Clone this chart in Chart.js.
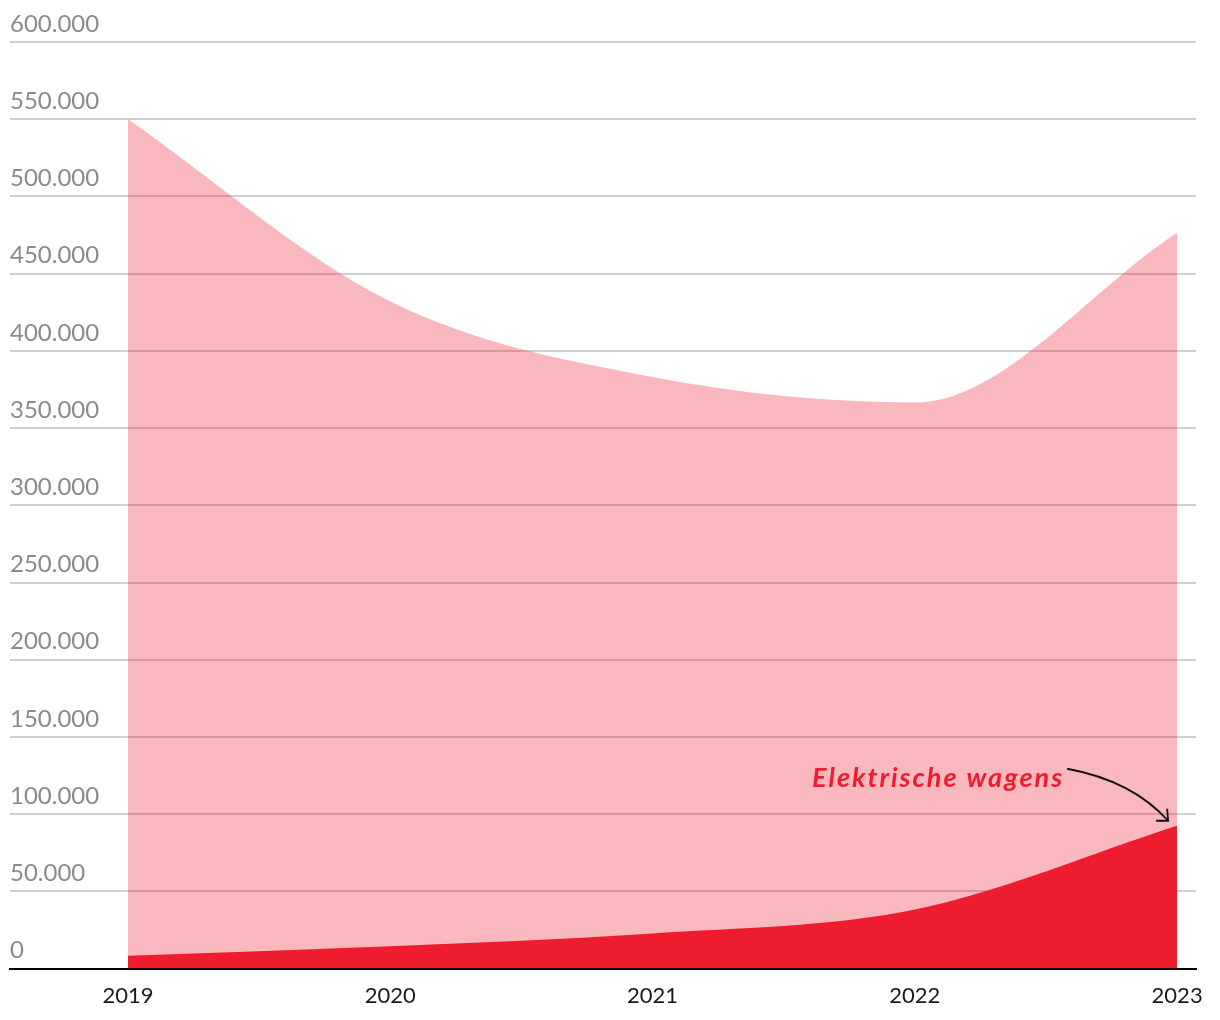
<!DOCTYPE html>
<html>
<head>
<meta charset="utf-8">
<script src="https://cdn.jsdelivr.net/npm/chart.js@4.4.1/dist/chart.umd.min.js"></script>
<style>
  html, body { margin: 0; padding: 0; background: #ffffff; }
  #wrap { width: 1220px; height: 1020px; }
</style>
</head>
<body>
<div id="wrap"><canvas id="c" width="1220" height="1020"></canvas></div>
<script>
// ---- data ----
const years = [2019, 2020, 2021, 2022, 2023];
const totalCars = [550000, 432000, 383000, 366500, 476500];
const electricCars = [8400, 14500, 22700, 38200, 92500];
const yTicks = [0, 50000, 100000, 150000, 200000, 250000, 300000, 350000, 400000, 450000, 500000, 550000, 600000];
const annotationText = 'Elektrische wagens';

const fmt = v => v === 0 ? '0' : v.toLocaleString('nl-NL').replace(/,/g, '.');

const annotationPlugin = {
  id: 'annot',
  afterDatasetsDraw(chart) {
    const ctx = chart.ctx;
    const xs = chart.scales.x, ys = chart.scales.y;
    const last = years.length - 1;
    const px = xs.getPixelForValue(years[last]);
    const py = ys.getPixelForValue(electricCars[last]);
    ctx.save();
    ctx.font = 'italic bold 27px Lato';
    try { ctx.letterSpacing = '2px'; } catch (e) {}
    ctx.fillStyle = '#ed1c2e';
    ctx.textAlign = 'right';
    ctx.textBaseline = 'alphabetic';
    ctx.fillText(annotationText, px - 113, py - 39);
    try { ctx.letterSpacing = '0px'; } catch (e) {}
    // arrow
    const sx = px - 110, sy = py - 57;
    const ex = px - 9, ey = py - 5;
    ctx.strokeStyle = '#111';
    ctx.lineWidth = 1.8;
    ctx.beginPath();
    ctx.moveTo(sx, sy);
    ctx.quadraticCurveTo(px - 45, py - 45, ex, ey);
    ctx.stroke();
    ctx.beginPath();
    ctx.moveTo(ex - 12, ey);
    ctx.lineTo(ex, ey);
    ctx.lineTo(ex - 1, ey - 12);
    ctx.stroke();
    ctx.restore();
  }
};

new Chart(document.getElementById('c'), {
  type: 'line',
  data: {
    datasets: [
      {
        label: 'Elektrische wagens',
        data: years.map((y, i) => ({ x: y, y: electricCars[i] })),
        backgroundColor: '#ed1c2e',
        borderWidth: 0,
        pointRadius: 0,
        fill: 'origin',
        cubicInterpolationMode: 'monotone'
      },
      {
        label: 'Totaal',
        data: years.map((y, i) => ({ x: y, y: totalCars[i] })),
        backgroundColor: 'rgba(236,31,52,0.32)',
        borderWidth: 0,
        pointRadius: 0,
        fill: 'origin',
        cubicInterpolationMode: 'monotone'
      }
    ]
  },
  options: {
    responsive: false,
    animation: false,
    layout: { padding: { left: 10, right: 24, top: 42, bottom: -3 } },
    plugins: { legend: { display: false }, tooltip: { enabled: false } },
    scales: {
      x: {
        type: 'linear',
        min: 2018.55,
        max: 2023.072,
        afterBuildTicks: s => { s.ticks = years.map(v => ({ value: v })); },
        grid: { display: false, drawTicks: false },
        border: { display: true, color: '#000', width: 2 },
        ticks: {
          padding: 14,
          maxRotation: 0,
          autoSkip: false,
          color: '#1a1a1a',
          font: { family: 'Lato', size: 22 },
          callback: v => String(v)
        }
      },
      y: {
        min: 0,
        max: 600000,
        afterBuildTicks: s => { s.ticks = yTicks.map(v => ({ value: v })); },
        grid: { color: '#d0d0d0', lineWidth: 2, drawTicks: false },
        border: { display: false },
        ticks: {
          mirror: true,
          padding: 0,
          labelOffset: -18,
          color: '#8a8a8a',
          font: { family: 'Lato', size: 24 },
          callback: v => fmt(v)
        }
      }
    }
  },
  plugins: [annotationPlugin]
});
</script>
</body>
</html>
